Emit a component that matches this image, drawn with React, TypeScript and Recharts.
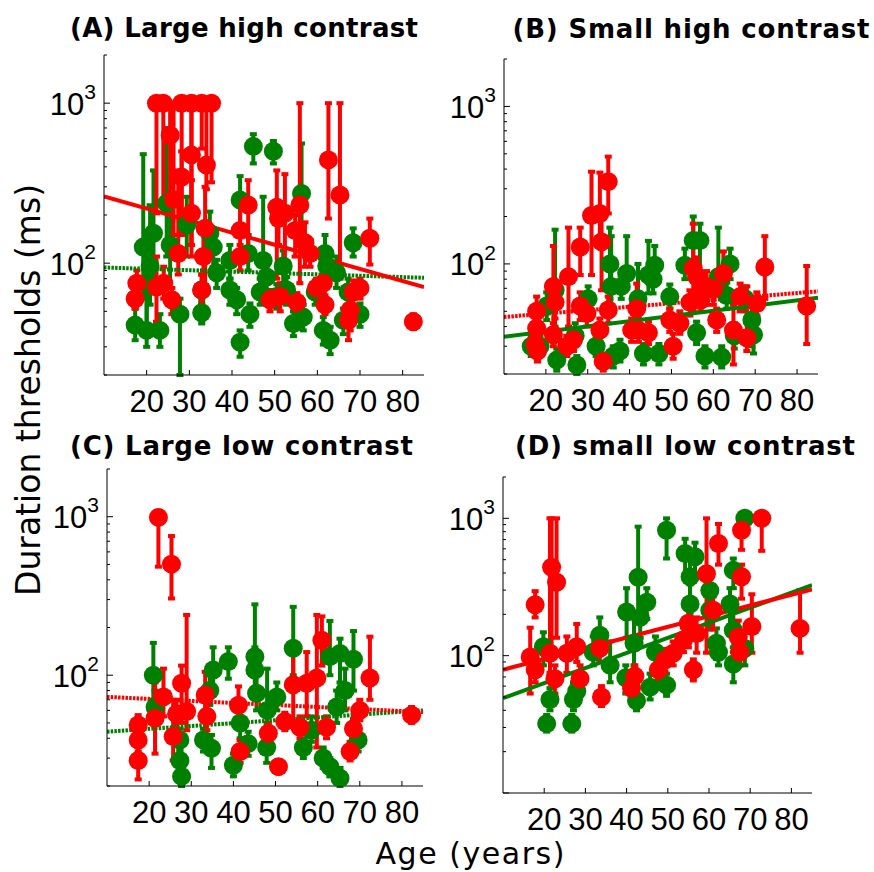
import { ComposedChart, Scatter, Line, XAxis, YAxis, ErrorBar } from 'recharts';

const RED = '#ff0000';
const GREEN = '#008000';

// each row: [age, threshold (ms), lower bound, upper bound]
const redA = [
  [22.3, 1000, 205, 1000], [23.9, 1000, 230, 1000], [28.2, 1000, 180, 1000], [30.5, 1000, 130, 1000],
  [32.9, 1000, 520, 1000], [35.2, 1000, 320, 1000], [25.5, 630, 210, 1000], [30.5, 475, 110, 1000],
  [34, 410, 290, 1000], [28.2, 345, 150, 500], [26.3, 250, 150, 1000], [30.5, 205, 130, 330],
  [33.7, 165, 70, 300], [27.4, 115, 85, 380], [33.3, 110, 90, 160], [17.7, 75, 60, 90],
  [17.3, 60, 52, 72], [22.3, 71, 43, 110], [24, 75, 60, 95], [25.9, 59, 48, 70],
  [32.9, 68, 55, 85], [41.9, 110, 90, 130], [43.8, 231, 110, 330], [41.9, 160, 110, 250],
  [48.9, 59, 50, 68], [51.3, 62, 50, 75], [50.5, 224, 80, 380], [52.4, 205, 90, 360],
  [50.9, 190, 130, 240], [55.9, 231, 75, 1000], [54.8, 160, 110, 200], [57.1, 134, 95, 180],
  [58.3, 115, 95, 140], [55.2, 57, 50, 65], [62.6, 442, 190, 1000], [61.4, 75, 65, 90],
  [59.8, 70, 60, 80], [61.8, 55, 48, 63], [65.3, 267, 80, 1000], [68.4, 66, 55, 78],
  [70, 70, 60, 80], [67.7, 51, 38, 63], [67.3, 44, 33, 55], [72.3, 143, 98, 190], [82.5, 43, 39, 48],
];
const greenA = [
  [17.3, 41, 33, 52], [20, 38, 30, 130], [19.2, 126, 60, 480], [20.8, 96, 55, 230],
  [20, 75, 40, 120], [21.6, 154, 70, 380], [23.1, 38, 30, 48], [24.7, 237, 110, 700],
  [25.5, 130, 70, 280], [27.8, 48, 20, 60], [29.4, 174, 110, 260], [32.9, 49, 42, 58],
  [32.9, 68, 55, 85], [34.8, 154, 110, 210], [35.6, 126, 95, 160], [36.4, 87, 70, 105],
  [39.5, 68, 55, 80], [39.5, 104, 80, 130], [41.1, 59, 48, 70], [41.9, 32, 26, 38],
  [41.9, 248, 150, 350], [43.8, 115, 90, 150], [44.2, 48, 40, 56], [45, 537, 420, 640],
  [46.6, 66, 55, 80], [47.3, 104, 85, 260], [48.1, 82, 65, 100], [49.7, 500, 420, 580],
  [50.5, 62, 52, 74], [52, 96, 75, 120], [52.8, 68, 55, 82], [54.4, 42, 35, 50],
  [56.3, 273, 150, 560], [56.7, 46, 38, 55], [59.5, 66, 55, 78], [61.8, 115, 90, 150],
  [61.4, 38, 31, 46], [63, 33, 27, 40], [62.2, 96, 75, 120], [64.5, 87, 70, 110],
  [66.1, 44, 36, 52], [67.2, 66, 55, 80], [68.4, 134, 110, 165], [70, 48, 40, 56],
];
const redB = [
  [34.9, 333, 209, 480], [32.9, 209, 130, 380], [30.9, 203, 85, 385], [33.3, 138, 68, 215],
  [28.2, 128, 85, 170], [25.4, 83, 40, 170], [21.8, 72, 38, 130], [17.8, 50, 40, 62],
  [17.8, 39, 33, 46], [17.4, 31, 27, 36], [18, 28, 24, 32], [22.2, 57, 45, 70],
  [21.8, 35.5, 30, 42], [25, 30, 26, 35], [26.6, 33, 28, 38], [28.2, 54, 44, 66],
  [29.8, 48.5, 40, 58], [33.7, 24, 21, 27], [34.9, 51, 42, 62], [32.9, 38, 32, 45],
  [41.7, 52, 42, 75], [42.1, 38, 32, 45], [44.5, 36.6, 31, 43], [40.5, 38, 32, 45],
  [50.4, 30, 25, 36], [49.6, 44, 37, 52], [52, 42, 36, 50], [54.4, 57, 47, 68],
  [55.2, 94, 50, 180], [56, 83, 60, 110], [58.4, 72, 55, 90], [57, 59, 50, 70],
  [62.4, 87, 60, 120], [60, 69, 55, 85], [60.8, 44, 37, 52], [64.8, 38, 23, 55],
  [66.4, 62, 50, 75], [68, 34, 28, 72], [70.4, 56, 47, 66], [72.3, 95.5, 60, 150], [82.3, 54, 31, 97],
];
const greenB = [
  [22.2, 68, 40, 165], [20.2, 54, 44, 66], [18.6, 30, 26, 35], [16.5, 30, 26, 35],
  [22.6, 24.5, 21, 29], [27.4, 22.8, 20, 26], [30.1, 60, 50, 72], [32, 30, 26, 35],
  [35.3, 100, 60, 170], [35.6, 72, 55, 150], [38, 72, 60, 90], [39.3, 87, 70, 150],
  [37.7, 28, 24, 33], [36.1, 26, 22, 30], [43.3, 27, 23, 31], [44.5, 85, 65, 140],
  [46, 98, 80, 130], [45.6, 80, 65, 100], [47, 27, 23, 31], [49.6, 62, 52, 74],
  [53.2, 98, 80, 125], [55.2, 141, 90, 200], [56.8, 141, 90, 180], [56, 36.6, 31, 43],
  [58, 26, 22, 30], [62, 25.6, 22, 30], [64, 100, 80, 125], [63.2, 63, 52, 76],
  [61.2, 83, 65, 170], [65, 35, 29, 42], [69.2, 44, 30, 60], [69.6, 35.5, 27, 44],
  [67.6, 60, 50, 72], [42, 60, 50, 100], [27, 35, 30, 42],
];
const redC = [
  [22.2, 990, 484, 1000], [25.3, 502, 305, 755], [17.4, 48.5, 42, 56], [17.4, 39, 33, 46],
  [17.4, 29, 22, 36], [21.4, 53.5, 32, 90], [23.4, 73, 55, 110], [25.7, 41, 29, 70],
  [27.7, 89, 50, 115], [28.9, 59, 45, 240], [26.5, 57, 46, 70], [33.3, 75, 60, 105],
  [33.7, 55, 45, 65], [41.2, 64.6, 50, 85], [41.6, 33, 28, 39], [48.3, 43, 37, 50],
  [50.7, 26.5, 24, 29], [52.2, 51, 45, 58], [54.2, 87, 50, 145], [55.8, 47, 40, 55],
  [57.4, 89, 55, 140], [59.8, 96, 35, 240], [61, 166, 115, 235], [62.1, 47, 40, 55],
  [67.7, 33, 29, 38], [68.5, 46, 40, 53], [70, 60, 52, 70], [72.4, 96, 70, 175], [82.3, 56, 50, 63],
];
const greenC = [
  [21, 100, 70, 160], [21.4, 63, 50, 80], [27.3, 29, 25, 34], [27.7, 23, 20, 27],
  [27.3, 39, 33, 46], [32.9, 39, 33, 46], [34.8, 34.6, 26, 42], [35.2, 108, 80, 150],
  [34.4, 80, 65, 100], [38.8, 122, 95, 150], [40, 27, 23, 32], [41.6, 50, 40, 62],
  [45.1, 131, 80, 280], [45.1, 108, 80, 150], [43.5, 37, 31, 44], [45.5, 77, 60, 100],
  [47.9, 35, 28, 45], [50.3, 73, 60, 90], [48, 60, 50, 110], [54.2, 148, 100, 270],
  [56.6, 35, 30, 40], [61.3, 30, 26, 35], [62.9, 26.5, 23, 30], [65.3, 22.4, 20, 26],
  [62.9, 131, 100, 220], [65.3, 137, 90, 170], [68.5, 126, 80, 190], [66.5, 80, 60, 110],
  [69.6, 39, 33, 46], [64.5, 63, 50, 80], [58.5, 45, 38, 55],
];
const redD = [
  [17.8, 235, 190, 295], [16.6, 98, 53, 160], [17.8, 79, 64, 96], [21.8, 440, 105, 1000],
  [23, 342, 135, 1000], [21.4, 104, 75, 1000], [22.6, 68, 53, 85], [25.5, 104, 75, 138],
  [27.9, 116, 90, 170], [28.7, 68, 53, 85], [33.5, 113, 90, 143], [33.9, 50, 43, 60],
  [41.2, 58, 49, 68], [42, 71, 58, 85], [47.7, 79, 66, 94], [49.3, 93, 76, 112],
  [51.3, 104, 85, 127], [53.8, 130, 106, 160], [55, 172, 115, 230], [56.2, 79, 66, 94],
  [57, 145, 105, 190], [59.4, 395, 105, 1000], [61, 214, 155, 270], [62.3, 655, 460, 910],
  [67.5, 106, 85, 138], [67.9, 820, 590, 1000], [67.9, 375, 260, 460], [67.1, 137, 105, 180],
  [70.4, 163, 105, 280], [72.8, 1000, 580, 1000], [82.1, 158, 105, 300],
];
const greenD = [
  [20.6, 32, 28, 37], [26.7, 32, 28, 37], [21.4, 48, 40, 58], [19.8, 116, 85, 148],
  [27.1, 48, 40, 64], [27.9, 55, 45, 69], [33.5, 141, 105, 190], [31.9, 106, 85, 138],
  [40, 208, 135, 310], [42.8, 372, 205, 870], [44.9, 245, 185, 310], [43.3, 190, 135, 260],
  [41.8, 123, 85, 190], [42.4, 47, 40, 64], [49.7, 61, 51, 74], [49.7, 820, 510, 1000],
  [54.2, 555, 360, 710], [56.6, 525, 360, 665], [55.4, 375, 205, 515], [55.4, 238, 155, 330],
  [60.2, 298, 205, 390], [60.2, 214, 155, 270], [61.8, 123, 95, 158], [62.3, 106, 85, 132],
  [65.9, 418, 310, 510], [65.1, 238, 165, 310], [65.9, 153, 115, 210], [68.7, 1000, 810, 1000],
  [68.7, 113, 85, 148], [65.9, 87, 64, 106], [45.7, 59, 48, 74], [39.8, 69, 53, 85],
  [36, 85, 64, 127], [47, 106, 74, 138],
];

// regression lines, end points at the x limits: [age, threshold]
const fitRedA = [[10, 261], [85, 71]];
const fitGreenA = [[10, 94], [85, 81]];
const fitRedB = [[10, 46], [85, 67]];
const fitGreenB = [[10, 34.5], [85, 61]];
const fitRedC = [[10, 73], [85, 58.5]];
const fitGreenC = [[10, 44], [85, 60]];
const fitRedD = [[10, 79], [85, 304]];
const fitGreenD = [[10, 49], [85, 327]];

const xTicks = [20, 30, 40, 50, 60, 70, 80];
const yTicks = [10, 20, 30, 40, 50, 60, 70, 80, 90, 100, 200, 300, 400, 500, 600, 700, 800, 900, 1000, 2000];
const titles = ['(A) Large high contrast', '(B) Small high contrast', '(C) Large low contrast', '(D) small low contrast'];

const toPoints = (rows: number[][]) => rows.map(([age, v, lo, hi]) => ({ age, v, err: [v - lo, hi - v] }));
const toLine = (rows: number[][]) => rows.map(([age, v]) => ({ age, v }));

const TICK_FONT = '"Liberation Sans", Arial, sans-serif';
const LABEL_FONT = '"DejaVu Sans", sans-serif';

function XTick({ x, y, payload }: any) {
  return (
    <g>
      <line x1={x} x2={x} y1={y} y2={y - 5} stroke="#000" />
      <text x={x} y={y + 37} textAnchor="middle" fontFamily={TICK_FONT} fontSize={31} fill="#000">
        {payload.value}
      </text>
    </g>
  );
}

function YTick({ x, y, payload }: any) {
  const v = payload.value;
  const major = v === 100 || v === 1000;
  return (
    <g>
      <line x1={x} x2={x + (major || v === 10 ? 6 : 3)} y1={y} y2={y} stroke="#000" />
      {major && (
        <text x={x - 8} y={y + 11.5} textAnchor="end" fontFamily={TICK_FONT} fontSize={31} fill="#000">
          <tspan>10</tspan>
          <tspan dy={-15.9} fontSize={21}>{v === 100 ? '2' : '3'}</tspan>
        </text>
      )}
    </g>
  );
}

const dot = (color: string) => (p: any) => <circle cx={p.cx} cy={p.cy} r={9.5} fill={color} />;
const noDot = () => <g />;

const ML = 70;
const MT = 15;
const MR = 15;
const MB = 45;

function Panel({ box, yDomain, red, green, fitRed, fitGreen, redDash, greenDash }: any) {
  const W = box.w + ML + MR;
  const H = box.h + MT + MB;
  const ticks = yTicks.filter((t) => t >= yDomain[0] && t <= yDomain[1]);
  const gPts = toPoints(green);
  const rPts = toPoints(red);
  return (
    <div style={{ position: 'absolute', left: box.x - ML, top: box.y - MT }}>
      <ComposedChart width={W} height={H} margin={{ top: MT, right: MR, bottom: 5, left: 10 }}>
        <XAxis
          type="number"
          dataKey="age"
          domain={[10, 85]}
          ticks={xTicks}
          interval={0}
          allowDataOverflow
          height={40}
          tickSize={0}
          tickMargin={0}
          tickLine={false}
          tick={<XTick />}
          axisLine={{ stroke: '#000' }}
        />
        <YAxis
          type="number"
          dataKey="v"
          scale="log"
          domain={yDomain}
          ticks={ticks}
          interval={0}
          allowDataOverflow
          width={60}
          tickSize={0}
          tickMargin={0}
          tickLine={false}
          tick={<YTick />}
          axisLine={{ stroke: '#000' }}
        />
        <Scatter data={gPts} fill={GREEN} shape={noDot} isAnimationActive={false}>
          <ErrorBar dataKey="err" direction="y" width={3.5} strokeWidth={4} stroke={GREEN} />
        </Scatter>
        <Scatter data={gPts} fill={GREEN} shape={dot(GREEN)} isAnimationActive={false} />
        <Scatter data={rPts} fill={RED} shape={noDot} isAnimationActive={false}>
          <ErrorBar dataKey="err" direction="y" width={3.5} strokeWidth={4} stroke={RED} />
        </Scatter>
        <Scatter data={rPts} fill={RED} shape={dot(RED)} isAnimationActive={false} />
        <Line
          data={toLine(fitGreen)}
          dataKey="v"
          stroke={GREEN}
          strokeWidth={4}
          strokeDasharray={greenDash ? '2.5 1.2' : undefined}
          dot={false}
          activeDot={false}
          isAnimationActive={false}
        />
        <Line
          data={toLine(fitRed)}
          dataKey="v"
          stroke={RED}
          strokeWidth={4}
          strokeDasharray={redDash ? '2.5 1.2' : undefined}
          dot={false}
          activeDot={false}
          isAnimationActive={false}
        />
      </ComposedChart>
    </div>
  );
}

export default function App() {
  return (
    <div style={{ position: 'absolute', left: 0, top: 0, width: 874, height: 872, background: '#fff', overflow: 'hidden' }}>
      <Panel box={{ x: 104, y: 55, w: 320, h: 320 }} yDomain={[20, 2000]} red={redA} green={greenA} fitRed={fitRedA} fitGreen={fitGreenA} redDash={false} greenDash />
      <Panel box={{ x: 504, y: 59, w: 314, h: 315 }} yDomain={[20, 2000]} red={redB} green={greenB} fitRed={fitRedB} fitGreen={fitGreenB} redDash greenDash={false} />
      <Panel box={{ x: 107, y: 469, w: 316, h: 317 }} yDomain={[20, 2000]} red={redC} green={greenC} fitRed={fitRedC} fitGreen={fitGreenC} redDash greenDash />
      <Panel box={{ x: 503, y: 477, w: 309, h: 316 }} yDomain={[10, 2000]} red={redD} green={greenD} fitRed={fitRedD} fitGreen={fitGreenD} redDash={false} greenDash={false} />
      <svg width={874} height={872} style={{ position: 'absolute', left: 0, top: 0, pointerEvents: 'none' }}>
        <text x={244} y={37} textAnchor="middle" fontFamily={LABEL_FONT} fontWeight="bold" fontSize={26} textLength={348}>{titles[0]}</text>
        <text x={691} y={38} textAnchor="middle" fontFamily={LABEL_FONT} fontWeight="bold" fontSize={26} textLength={357}>{titles[1]}</text>
        <text x={241.5} y={455} textAnchor="middle" fontFamily={LABEL_FONT} fontWeight="bold" fontSize={26} textLength={343}>{titles[2]}</text>
        <text x={685} y={455} textAnchor="middle" fontFamily={LABEL_FONT} fontWeight="bold" fontSize={26} textLength={340}>{titles[3]}</text>
        <text x={40} y={390} transform="rotate(-90 40 390)" textAnchor="middle" fontFamily={LABEL_FONT} fontSize={33}>
          Duration thresholds (ms)
        </text>
        <text x={470} y={864} textAnchor="middle" fontFamily={LABEL_FONT} fontSize={30} textLength={189}>
          Age (years)
        </text>
      </svg>
    </div>
  );
}
